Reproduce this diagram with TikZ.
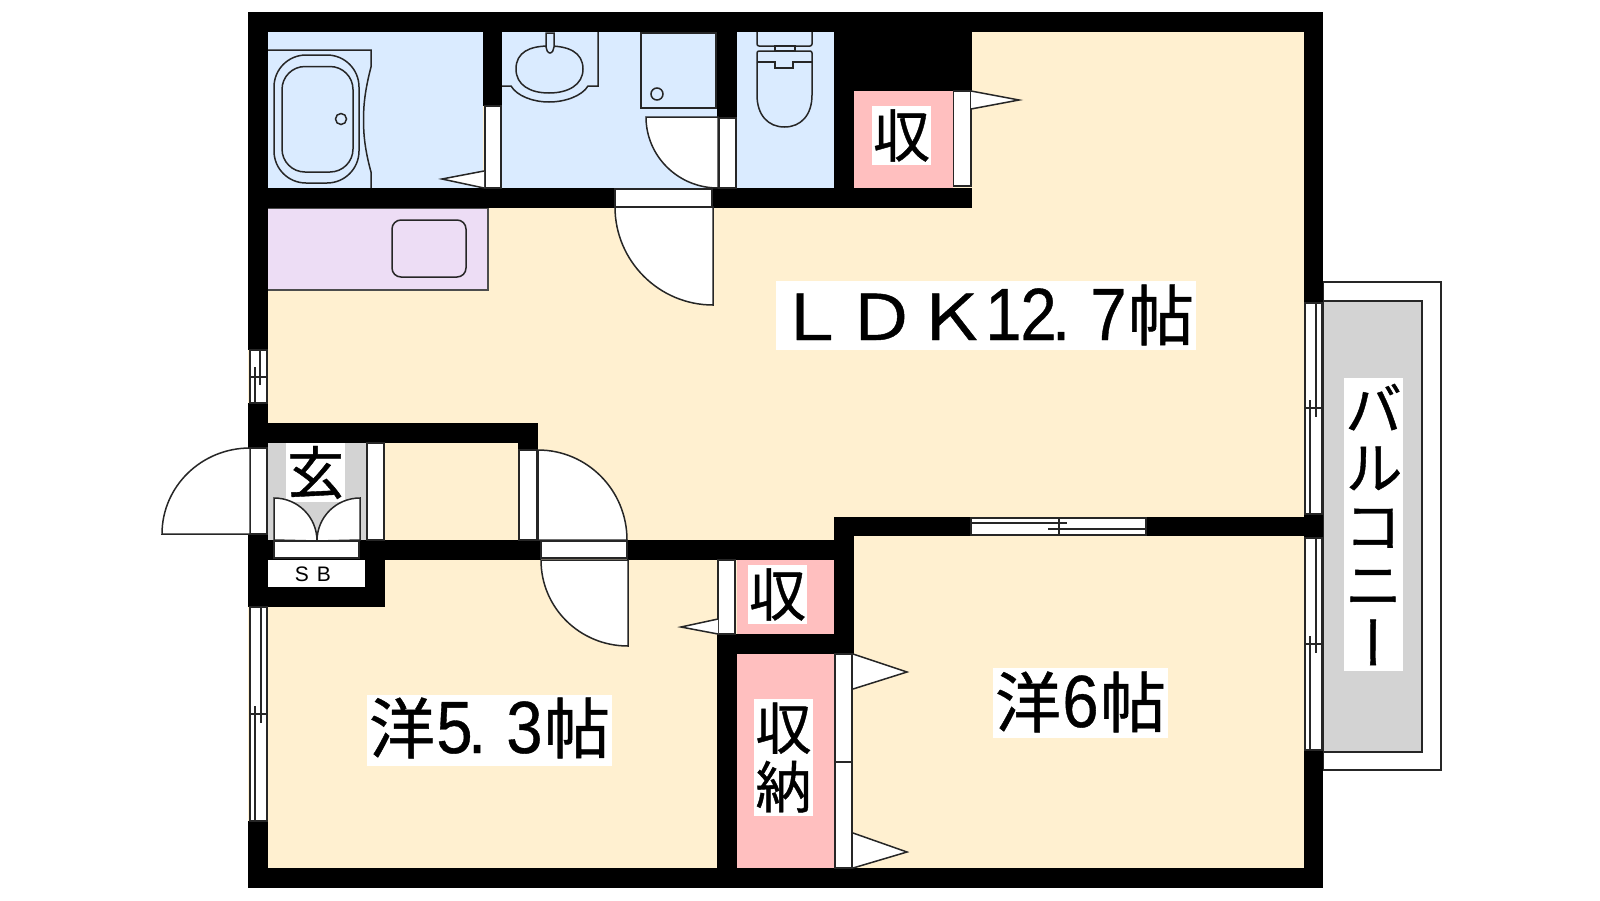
\documentclass[tikz,border=0pt]{standalone}
\usepackage{fontspec}
\setmainfont{Liberation Sans}
\newfontfamily\cjk[FakeBold=0.7]{Noto Sans CJK JP}
\newfontfamily\cjkw[FakeBold=0.7,FakeStretch=1.15]{Noto Sans CJK JP}
\newfontfamily\cjkv[RawFeature={+vert},FakeBold=0.7]{Noto Sans CJK JP}
\newfontfamily\dig[FakeStretch=0.88,FakeBold=0.5]{Liberation Sans}
\definecolor{floorc}{HTML}{FFF0D0}
\definecolor{wetc}{HTML}{DAEBFF}
\definecolor{kitc}{HTML}{EDDDF5}
\definecolor{closetc}{HTML}{FFBFBF}
\definecolor{grayc}{HTML}{D3D3D3}
\newcommand\kj[1]{\makebox[70pt][c]{\fontsize{66}{70}\selectfont\cjk #1}}
\newcommand\lat[1]{\makebox[70pt][c]{\fontsize{63}{70}\selectfont\cjkw #1}}
\newcommand\nm[1]{\makebox[35pt][c]{\fontsize{74}{70}\selectfont\dig #1}}
\newcommand\pt[1]{\makebox[35pt][l]{\hspace{-4pt}\fontsize{74}{70}\selectfont\dig #1}}
\tikzset{
  wall/.style={fill=black,draw=none},
  thin line/.style={draw=black!85,line width=1.5pt},
  strip/.style={fill=white,thin line},
  label box/.style={fill=white,inner sep=0pt,outer sep=0pt,text=black},
  fix/.style={thin line}
}
\begin{document}
\begin{tikzpicture}[x=1pt,y=-1pt]
\useasboundingbox (0,0) rectangle (1600,900);
\fill[white] (0,0) rectangle (1600,900);
% balcony
\draw[fill=white,thin line] (1323,282) rectangle (1441,770);
\draw[fill=grayc,thin line] (1323,301) rectangle (1422,752);
% floors
\fill[floorc] (248,12) rectangle (1323,888);
\fill[wetc] (268,32) rectangle (483,188);
\fill[wetc] (502,32) rectangle (717,188);
\fill[wetc] (737,32) rectangle (834,188);
\fill[closetc] (854,91) rectangle (953,188);
\fill[closetc] (737,560) rectangle (834,634);
\fill[closetc] (737,654) rectangle (835,868);
\fill[grayc] (268,443) rectangle (367,540);
\draw[fill=kitc,thin line,draw=black!70] (268,208) -- (488,208) -- (488,290) -- (268,290);
\draw[fix,rounded corners=9pt] (392,220) rectangle (466,277);
% walls
\foreach \a/\b/\c/\d in {
 248/12/1323/32, 248/12/268/350, 248/403/268/448, 248/534/268/607, 248/821/268/888,
 248/868/1323/888, 1304/12/1323/303, 1304/514/1323/538, 1304/750/1323/888,
 483/32/502/106, 268/188/615/208, 712/188/972/208, 717/32/737/118,
 834/32/972/91, 834/91/854/188, 248/423/538/443, 518/443/538/450,
 268/540/541/560, 627/540/834/560, 365/540/385/607, 248/587/385/607,
 834/517/854/654, 834/517/971/536, 1146/517/1304/536, 717/634/854/654, 717/634/737/868}
 { \fill[wall] (\a,\b) rectangle (\c,\d); }
\fill[white] (268,560) rectangle (365,587);
% door strips
\foreach \a/\b/\c/\d in {
 485/106/501/188, 719/118/736/188, 615/189/712/207, 953.5/91/971/186,
 250/448/267/534, 367/443/384/540, 519/450/537/540, 541/541/627/558,
 274/541/359/558, 718/560/735/634, 835/654/852/762, 835/762/852/868}
 { \draw[strip] (\a,\b) rectangle (\c,\d); }
% door leaves
\draw[strip] (646,117) .. controls (646,156) and (678,188) .. (718,188) -- (718,117) -- cycle;
\draw[strip] (615,207) .. controls (615,261) and (659,305) .. (713,305) -- (713,207) -- cycle;
\draw[strip] (162,534) .. controls (162,486.5) and (201.4,448) .. (250,448) -- (250,534) -- cycle;
\draw[strip] (538,450) .. controls (587,450) and (627,490) .. (627,540) -- (538,540) -- cycle;
\draw[strip] (541,560) .. controls (541,608) and (580,646) .. (628,646) -- (628,560) -- cycle;
% opening triangles
\draw[strip] (484,171) -- (442,179) -- (484,188);
\draw[strip] (971,91) -- (1019,100) -- (971,109);
\draw[strip] (718,619) -- (681,627) -- (718,634);
\draw[strip] (853,654) -- (907,672) -- (853,689);
\draw[strip] (853,833) -- (907,852) -- (853,868);
% windows
\draw[strip] (250,350) rectangle (267,403);
\draw[fix] (249,377) -- (268,377) (255,367) -- (255,403) (260,350) -- (260,385);
\draw[strip] (250,607) rectangle (267,821);
\draw[fix] (249,714) -- (268,714) (255,706) -- (255,821) (261,607) -- (261,723);
\draw[strip] (1305,303) rectangle (1322,514);
\draw[fix] (1304,408) -- (1323,408) (1310,400) -- (1310,514) (1316,303) -- (1316,417);
\draw[strip] (1305,538) rectangle (1322,750);
\draw[fix] (1304,644) -- (1323,644) (1310,636) -- (1310,750) (1316,538) -- (1316,653);
\draw[strip] (971,518) rectangle (1146,535);
\draw[fix] (1059,517) -- (1059,536) (971,523) -- (1067,523) (1048,529) -- (1146,529);
% bath
\draw[fix] (268,50) -- (371,50) -- (371,67) .. controls (365,90) and (363.5,105) .. (363.5,120)
  .. controls (363.5,135) and (365,150) .. (371,172) -- (371,188);
\draw[fix,rounded corners=32pt] (274,55) rectangle (359,183);
\draw[fix,rounded corners=23pt] (282,66.5) rectangle (353,172);
\draw[fix] (341,119) circle[radius=5.5];
% wash basin
\draw[fix] (502,86) -- (511,86) .. controls (517,96) and (533,102) .. (549,102)
  .. controls (565,102) and (582,96) .. (588,86) -- (598,86) -- (598,32);
\draw[fix] (516,69) .. controls (516,52) and (530,46) .. (549,46) .. controls (568,46) and (583,52) .. (583,69)
  .. controls (583,85) and (568,93) .. (549,93) .. controls (530,93) and (516,85) .. (516,69);
\draw[fix,fill=wetc] (546,33) -- (554,33) -- (554,47) .. controls (554,50) and (552,53) .. (550,53)
  .. controls (548,53) and (546,50) .. (546,47) -- cycle;
\draw[fix] (641,33) rectangle (716,108);
\draw[fix] (657,94) circle[radius=6];
% toilet
\draw[fix,rounded corners=2pt] (757,32) -- (757,46) -- (812,46) -- (812,32);
\draw[fix] (775,46) rectangle (795,51);
\draw[fix,rounded corners=2pt] (757,62) -- (757,51) -- (812,51) -- (812,62);
\draw[fix] (757,62) -- (775,62) -- (775,68) -- (793,68) -- (793,62) -- (812,62);
\draw[fix] (757,62) -- (757,95) .. controls (757,115) and (768,127) .. (784.5,127)
  .. controls (801,127) and (812,115) .. (812,95) -- (812,62);
% labels
\node[label box,anchor=north west,minimum width=59pt,minimum height=59pt] (closetA) at (872,106) {\fontsize{57}{58}\selectfont\cjk 収};
\node[label box,anchor=north west,minimum width=59pt,minimum height=59pt] (closetB) at (748,565) {\fontsize{57}{58}\selectfont\cjk 収};
\node[label box,anchor=north west,minimum width=59pt,minimum height=59pt] (entry) at (286,443) {\fontsize{57}{58}\selectfont\cjk 玄};
\node[label box,anchor=north west,minimum width=59pt,minimum height=117pt,align=center,font=\fontsize{56}{58.5}\selectfont\cjk] (closetC) at (754,699) {収\\納};
\node[label box,anchor=north west,minimum width=59pt,minimum height=293pt,align=center,font=\fontsize{58}{58.6}\selectfont\cjkv] (balcony) at (1344,378) {バ\\ル\\コ\\ニ\\ー};
\node[label box,anchor=north west,text height=59pt,text depth=10pt] (ldk) at (776,281)
  {\lat{Ｌ}\lat{Ｄ}\lat{Ｋ}\nm{1}\nm{2}\pt{.}\nm{7}\kj{帖}};
\node[label box,anchor=north west,text height=58pt,text depth=13pt] (roomA) at (367,695)
  {\kj{洋}\nm{5}\pt{.}\nm{3}\kj{帖}};
\node[label box,anchor=north west,text height=59pt,text depth=11pt] (roomB) at (993,668)
  {\kj{洋}\nm{6}\kj{帖}};
\node[inner sep=0pt,font=\fontsize{21}{21}\selectfont] (sb) at (313,574.5) {S\hspace{8pt}B};
% shoe box doors
\draw[strip] (274,540) -- (274,498) .. controls (297.7,498) and (317,517) .. (317,541) -- cycle;
\draw[strip] (360,540) -- (360,498) .. controls (336.3,498) and (317,517) .. (317,541) -- cycle;
\end{tikzpicture}
\end{document}
